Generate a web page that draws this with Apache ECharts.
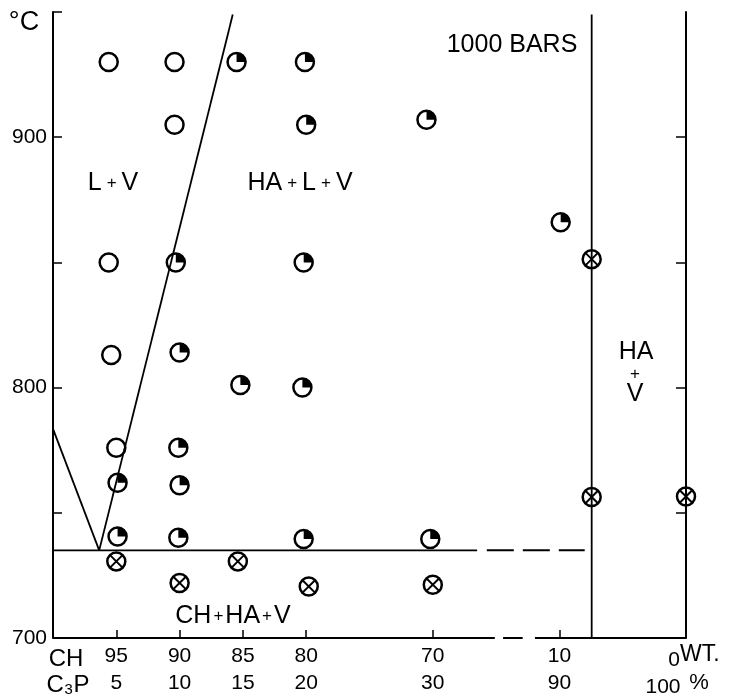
<!DOCTYPE html>
<html><head><meta charset="utf-8">
<script src="https://cdn.jsdelivr.net/npm/echarts@6/dist/echarts.min.js"></script>
<style>html,body{margin:0;padding:0;background:#fff}#c{width:736px;height:697px}</style>
</head><body><div id="c"></div>
<script>
const FONT = '"Liberation Sans", Arial, sans-serif';

// ---- tick labels ----
const chTicks  = [95, 90, 85, 80, 70, 10, 0];
const c3pTicks = [5, 10, 15, 20, 30, 90, 100];
const tempTicks = [700, 750, 800, 850, 900, 950];
const tempLabels = [700, 800, 900];

// ---- experimental points [CH wt%, temperature °C] ----
const openPts = [[95.6,930],[90.4,930],[90.4,905],[95.6,850],[95.4,813],[95.0,776]];
const quarterPts = [[85.5,930],[80.1,930],[80.0,905],[70.5,907],[9.9,866],[90.3,850],[80.2,850],
  [90.0,814],[85.2,801],[80.3,800],[90.1,776],[94.9,762],[90.0,761],[94.9,740.5],[90.1,740],
  [80.2,739.5],[70.2,739.5]];
const crossPts = [[95.0,730.6],[85.4,730.6],[90.0,722],[79.8,720.6],[70.0,721.3],
  [7.45,851.3],[7.45,756.3],[0,756.5]];

// ---- phase boundaries [CH wt%, °C] ----
const leftLiquidus  = [[100,783.5],[96.35,735]];
const rightLiquidus = [[96.35,735],[85.8,949]];
const solidusSolid  = [[100,735],[49,735]];
const solidusDashed = [[44.4,735],[8.0,735]];
const haBoundary    = [[7.45,700],[7.45,949]];
// broken composition axis baseline
const baseSolidA = [[100,700],[40.6,700]];
const baseDash   = [[36.7,700],[27.4,700]];
const baseSolidB = [[21.6,700],[0,700]];

// broken axis: CH 100..70 and 10..0 linear, 70..10 compressed
function chToU(ch){
  if (ch >= 70) return 100 - ch;
  if (ch <= 10) return 50 - ch;
  return 30 + (70 - ch) / 6;
}
const mapPts = arr => arr.map(p => [chToU(p[0]), p[1]]);

const labelU = chTicks.slice(0, 6).map(chToU);

function lineSeries(data, width, dash){
  return {type:'line', data: mapPts(data), symbol:'none', silent:true, z:2,
    lineStyle:{color:'#000', width: width, type: dash || 'solid'}, animation:false};
}

const R = 9;
function markerSeries(data, kind){
  return {
    type:'custom', data: mapPts(data), z:5, animation:false, silent:true,
    encode:{x:0, y:1},
    renderItem(params, api){
      const p = api.coord([api.value(0), api.value(1)]);
      const ch = [{type:'circle', shape:{cx:p[0], cy:p[1], r:R},
        style:{fill:'none', stroke:'#000', lineWidth:2.5}}];
      if (kind === 'quarter') {
        ch.push({type:'sector', shape:{cx:p[0], cy:p[1], r0:0, r:R, startAngle:-Math.PI/2, endAngle:0, clockwise:true},
          style:{fill:'#000'}});
      } else if (kind === 'cross') {
        const d = R * 0.72;
        ch.push({type:'line', shape:{x1:p[0]-d, y1:p[1]-d, x2:p[0]+d, y2:p[1]+d}, style:{stroke:'#000', lineWidth:2}});
        ch.push({type:'line', shape:{x1:p[0]+d, y1:p[1]-d, x2:p[0]-d, y2:p[1]+d}, style:{stroke:'#000', lineWidth:2}});
      }
      return {type:'group', children: ch};
    }
  };
}

function txt(x, y, text, size, extra){
  return Object.assign({type:'text', x:x, y:y, silent:true,
    style:Object.assign({text:text, fontSize:size, fontFamily:FONT, fill:'#000', align:'center', verticalAlign:'middle'}, extra || {})});
}
function plusRich(pad){
  return {a:{fontSize:25, fontFamily:FONT}, p:{fontSize:17, fontFamily:FONT, padding:[0,pad,0,pad]}};
}

const chart = echarts.init(document.getElementById('c'));
chart.setOption({
  animation:false,
  backgroundColor:'#fff',
  grid:{left:53, right:50, top:12, bottom:55},
  xAxis:{
    type:'value', min:0, max:50,
    axisLine:{show:false},
    splitLine:{show:false},
    axisTick:{show:true, inside:true, length:8, customValues: labelU, lineStyle:{color:'#000', width:1.5}},
    axisLabel:{show:true, customValues: labelU, margin:5, fontSize:21, lineHeight:27, fontFamily:FONT, color:'#000',
      formatter: v => { const i = labelU.findIndex(u => Math.abs(u - v) < 1e-6); return i < 0 ? '' : chTicks[i] + '\n' + c3pTicks[i]; }}
  },
  yAxis:[{
    type:'value', min:700, max:950, interval:50, position:'left',
    axisLine:{show:true, lineStyle:{color:'#000', width:2}},
    splitLine:{show:false},
    axisTick:{show:true, inside:true, length:9, customValues: tempTicks.slice(1), lineStyle:{color:'#000', width:1.5}},
    axisLabel:{margin:6, fontSize:21, fontFamily:FONT, color:'#000', customValues: tempLabels,
      formatter: v => tempLabels.includes(v) ? String(v) : ''}
  },{
    type:'value', min:700, max:950, interval:50, position:'right',
    axisLine:{show:true, lineStyle:{color:'#000', width:2}},
    splitLine:{show:false},
    axisTick:{show:true, inside:true, length:10, customValues: tempTicks.slice(1, 5), lineStyle:{color:'#000', width:1.5}},
    axisLabel:{show:false}
  }],
  series:[
    lineSeries(baseSolidA, 2), lineSeries(baseDash, 2), lineSeries(baseSolidB, 2),
    lineSeries(leftLiquidus, 1.8), lineSeries(rightLiquidus, 1.8),
    lineSeries(solidusSolid, 1.8), lineSeries(solidusDashed, 2, [27, 9]),
    lineSeries(haBoundary, 1.8),
    markerSeries(openPts, 'open'),
    markerSeries(quarterPts, 'quarter'),
    markerSeries(crossPts, 'cross')
  ],
  graphic:[
    txt(24, 23, '°C', 27),
    txt(113, 183, '{a|L}{p|+}{a|V}', 25, {rich: plusRich(5)}),
    txt(300, 183, '{a|HA}{p|+}{a|L}{p|+}{a|V}', 25, {rich: plusRich(5)}),
    txt(512, 45, '1000 BARS', 25),
    txt(636, 352, 'HA', 25),
    txt(635, 374, '+', 17),
    txt(635, 394, 'V', 25),
    txt(233, 616, '{a|CH}{p|+}{a|HA}{p|+}{a|V}', 25, {rich: plusRich(2)}),
    txt(66, 659, 'CH', 24),
    txt(68, 685, 'C₃P', 24),
    txt(674, 660, String(chTicks[6]), 21),
    txt(680, 655, 'WT.', 23, {align:'left'}),
    txt(663, 687, String(c3pTicks[6]), 21),
    txt(699, 683, '%', 22)
  ]
});
</script></body></html>
